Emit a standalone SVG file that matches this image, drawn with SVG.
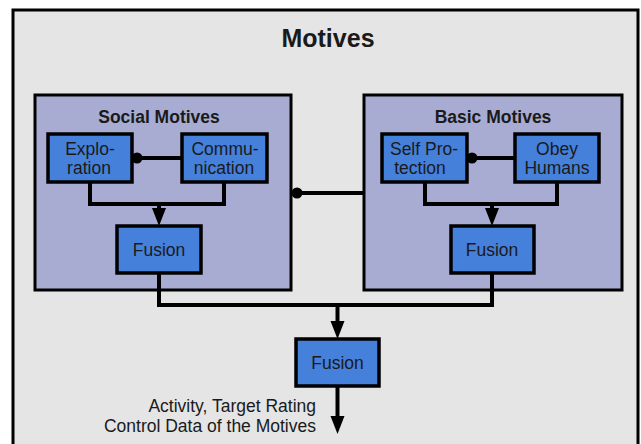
<svg xmlns="http://www.w3.org/2000/svg" width="641" height="444" viewBox="0 0 641 444">
  <defs>
    <marker id="arrow" markerUnits="userSpaceOnUse" markerWidth="18" markerHeight="16" refX="8" refY="8" orient="auto">
      <path d="M0,1 L18,8 L0,15 z" fill="#000"/>
    </marker>
    <style>
      .outer { fill: #e5e5e5; stroke: #000; stroke-width: 3; }
      .panel { fill: #a8acd2; stroke: #000; stroke-width: 3; }
      .box { fill: #4580da; stroke: #000; stroke-width: 3.5; }
      .wire { fill: none; stroke: #000; stroke-width: 4; stroke-linejoin: miter; }
      .dot { fill: #000; }
      text { font-family: "Liberation Sans", Arial, sans-serif; fill: #1a1a1a; }
      .title { font-size: 25px; font-weight: bold; text-anchor: middle; }
      .ptitle { font-size: 17.5px; font-weight: bold; text-anchor: middle; }
      .label { font-size: 17.5px; text-anchor: middle; }
      .out { font-size: 17.5px; text-anchor: end; }
    </style>
  </defs>

  <rect width="641" height="444" fill="#fff"/>

  <!-- outer container -->
  <g id="motives">
    <rect class="outer" x="13" y="10" width="625" height="450"/>
    <text class="title" x="328" y="47">Motives</text>
  </g>

  <!-- social motives panel -->
  <g id="social-motives">
    <rect class="panel" x="35" y="95" width="256" height="195"/>
    <text class="ptitle" x="159" y="123">Social Motives</text>
  </g>

  <!-- basic motives panel -->
  <g id="basic-motives">
    <rect class="panel" x="364" y="95" width="258" height="195"/>
    <text class="ptitle" x="493" y="123">Basic Motives</text>
  </g>

  <!-- connectors -->
  <g id="connectors">
    <!-- social: exploration / communication -->
    <line class="wire" x1="137" y1="158" x2="182" y2="158"/>
    <circle class="dot" cx="137" cy="158" r="5.5"/>
    <polyline class="wire" points="90,182 90,204 224,204 224,182"/>
    <line class="wire" x1="159" y1="204" x2="159" y2="216" marker-end="url(#arrow)"/>

    <!-- basic: self protection / obey humans -->
    <line class="wire" x1="472" y1="158" x2="515" y2="158"/>
    <circle class="dot" cx="472" cy="158" r="5.5"/>
    <polyline class="wire" points="425,182 425,204 557,204 557,182"/>
    <line class="wire" x1="492" y1="204" x2="492" y2="216" marker-end="url(#arrow)"/>

    <!-- link between panels -->
    <line class="wire" x1="297" y1="193" x2="364" y2="193"/>
    <circle class="dot" cx="297" cy="193" r="5.5"/>

    <!-- panel fusions into final fusion -->
    <polyline class="wire" points="159,273 159,305 492,305 492,273"/>
    <line class="wire" x1="337.5" y1="305" x2="337.5" y2="329" marker-end="url(#arrow)"/>

    <!-- output -->
    <line class="wire" x1="337.5" y1="386" x2="337.5" y2="424" marker-end="url(#arrow)"/>
  </g>

  <g id="exploration">
    <rect class="box" x="48" y="134" width="84" height="48"/>
    <text class="label" x="90" y="155">Explo-</text>
    <text class="label" x="89" y="174">ration</text>
  </g>

  <g id="communication">
    <rect class="box" x="182" y="134" width="85" height="48"/>
    <text class="label" x="225" y="155">Commu-</text>
    <text class="label" x="224" y="174">nication</text>
  </g>

  <g id="social-fusion">
    <rect class="box" x="117" y="226" width="84" height="47"/>
    <text class="label" x="159" y="256">Fusion</text>
  </g>

  <g id="self-protection">
    <rect class="box" x="382" y="134" width="85" height="48"/>
    <text class="label" x="424" y="155">Self Pro-</text>
    <text class="label" x="420" y="174">tection</text>
  </g>

  <g id="obey-humans">
    <rect class="box" x="515" y="134" width="84" height="48"/>
    <text class="label" x="557" y="155">Obey</text>
    <text class="label" x="557" y="174">Humans</text>
  </g>

  <g id="basic-fusion">
    <rect class="box" x="451" y="226" width="83" height="47"/>
    <text class="label" x="492" y="256">Fusion</text>
  </g>

  <g id="final-fusion">
    <rect class="box" x="296" y="339" width="83" height="47"/>
    <text class="label" x="337.5" y="369">Fusion</text>
  </g>

  <g id="output-label">
    <text class="out" x="316" y="412">Activity, Target Rating</text>
    <text class="out" x="316" y="432">Control Data of the Motives</text>
  </g>
</svg>
